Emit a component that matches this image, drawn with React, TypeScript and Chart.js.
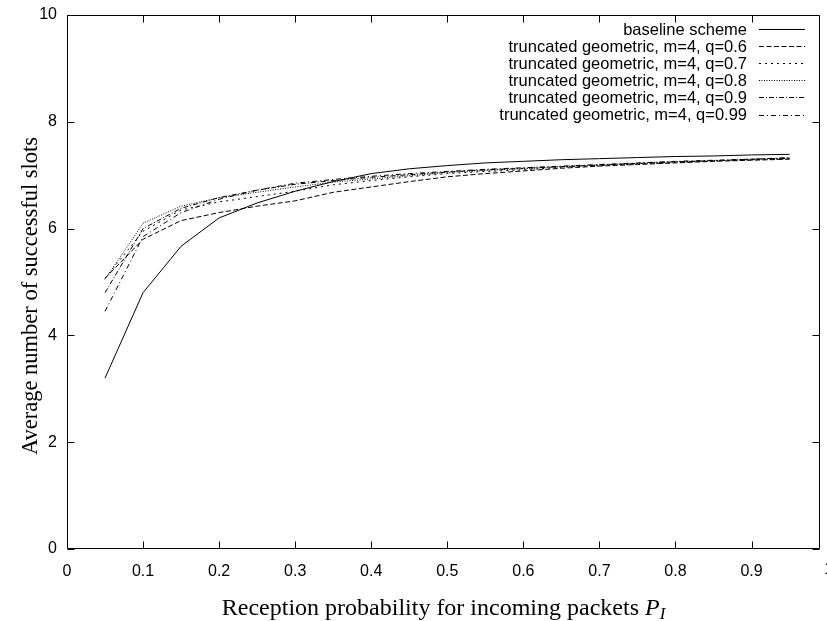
import React, { useEffect, useRef } from 'react';
import { Chart, registerables } from 'chart.js';

Chart.register(...registerables);

const xValues = [0.05, 0.1, 0.15, 0.2, 0.25, 0.3, 0.35, 0.4, 0.45, 0.5, 0.55, 0.6, 0.65, 0.7, 0.75, 0.8, 0.85, 0.9, 0.95];
const baseline = [3.2, 4.8, 5.67, 6.2, 6.48, 6.7, 6.88, 7.03, 7.12, 7.18, 7.23, 7.26, 7.29, 7.31, 7.33, 7.35, 7.36, 7.38, 7.39];
const q06 = [5.07, 5.8, 6.15, 6.3, 6.42, 6.52, 6.68, 6.78, 6.88, 6.97, 7.03, 7.08, 7.13, 7.17, 7.2, 7.23, 7.26, 7.28, 7.3];
const q07 = [5.07, 5.95, 6.35, 6.5, 6.6, 6.7, 6.82, 6.9, 6.97, 7.03, 7.07, 7.1, 7.15, 7.18, 7.21, 7.24, 7.27, 7.29, 7.31];
const q08 = [5.05, 6.1, 6.42, 6.58, 6.68, 6.78, 6.87, 6.93, 6.99, 7.05, 7.09, 7.12, 7.16, 7.19, 7.22, 7.25, 7.27, 7.29, 7.32];
const q09 = [4.8, 6.0, 6.38, 6.58, 6.72, 6.83, 6.9, 6.96, 7.01, 7.06, 7.1, 7.13, 7.16, 7.19, 7.22, 7.25, 7.27, 7.3, 7.32];
const q099 = [4.45, 5.85, 6.3, 6.55, 6.72, 6.85, 6.92, 6.98, 7.03, 7.07, 7.11, 7.14, 7.17, 7.2, 7.23, 7.26, 7.28, 7.3, 7.33];

const seriesLabels = [
  'baseline scheme',
  'truncated geometric, m=4, q=0.6',
  'truncated geometric, m=4, q=0.7',
  'truncated geometric, m=4, q=0.8',
  'truncated geometric, m=4, q=0.9',
  'truncated geometric, m=4, q=0.99',
];
const seriesValues = [baseline, q06, q07, q08, q09, q099];
const seriesDashes: number[][] = [[], [5, 2.5], [2, 4], [1, 1.5], [5, 2, 1, 2], [5, 3, 1, 3]];

const xTicks = [0, 0.1, 0.2, 0.3, 0.4, 0.5, 0.6, 0.7, 0.8, 0.9];
const yTicks = [0, 2, 4, 6, 8, 10];
const xCutTick = 1;

const xTitle = 'Reception probability for incoming packets ';
const yTitle = 'Average number of successful slots';

const SANS = '"Liberation Sans", Arial, sans-serif';
const SERIF = '"Liberation Serif", "Times New Roman", serif';

const framePlugin = {
  id: 'frame',
  afterDraw(chart: any) {
    const { ctx, chartArea } = chart;
    const { left, right, top, bottom } = chartArea;
    const xs = chart.scales.x;
    const ys = chart.scales.y;
    ctx.save();
    ctx.strokeStyle = '#000';
    ctx.lineWidth = 1;
    ctx.setLineDash([]);
    const L = Math.round(left) + 0.5;
    const R = Math.round(right) - 0.5;
    const T = Math.round(top) + 0.5;
    const B = Math.round(bottom) - 0.5;
    ctx.beginPath();
    ctx.rect(L, T, R - L, B - T);
    ctx.stroke();
    const tl = 7;
    ctx.beginPath();
    xTicks.forEach((v) => {
      const px = Math.round(xs.getPixelForValue(v)) + 0.5;
      ctx.moveTo(px, B);
      ctx.lineTo(px, B - tl);
      ctx.moveTo(px, T);
      ctx.lineTo(px, T + tl);
    });
    yTicks.forEach((v) => {
      const py = Math.round(ys.getPixelForValue(v)) + 0.5;
      ctx.moveTo(L, py);
      ctx.lineTo(L + tl, py);
      ctx.moveTo(R, py);
      ctx.lineTo(R - tl, py);
    });
    ctx.stroke();

    // cut-off "1" tick label at the right edge
    ctx.font = `16px ${SANS}`;
    ctx.fillStyle = '#000';
    ctx.textAlign = 'center';
    ctx.textBaseline = 'middle';
    ctx.fillText(String(xCutTick), xs.getPixelForValue(xCutTick) + 1, 570);

    // legend
    const textRight = 747;
    const sampleL = 759;
    const sampleR = 805;
    const rowTop = 29;
    const rowStep = 17.1;
    ctx.font = `16.5px ${SANS}`;
    ctx.textAlign = 'right';
    ctx.textBaseline = 'middle';
    chart.data.datasets.forEach((ds: any, i: number) => {
      const y = rowTop + i * rowStep;
      ctx.fillText(ds.label, textRight, y + 1);
      ctx.beginPath();
      ctx.setLineDash(ds.borderDash || []);
      ctx.moveTo(sampleL, Math.round(y) + 0.5);
      ctx.lineTo(sampleR, Math.round(y) + 0.5);
      ctx.stroke();
    });
    ctx.setLineDash([]);

    // x title with italic P_I
    const cx = (left + right) / 2;
    const fs = 24;
    ctx.textBaseline = 'alphabetic';
    ctx.textAlign = 'left';
    ctx.font = `${fs}px ${SERIF}`;
    const w1 = ctx.measureText(xTitle).width;
    ctx.font = `italic ${fs}px ${SERIF}`;
    const w2 = ctx.measureText('P').width;
    ctx.font = `italic ${fs * 0.7}px ${SERIF}`;
    const w3 = ctx.measureText('I').width;
    let x0 = cx - (w1 + w2 + w3) / 2;
    const base = 615;
    ctx.font = `${fs}px ${SERIF}`;
    ctx.fillText(xTitle, x0, base);
    x0 += w1;
    ctx.font = `italic ${fs}px ${SERIF}`;
    ctx.fillText('P', x0, base);
    x0 += w2;
    ctx.font = `italic ${fs * 0.7}px ${SERIF}`;
    ctx.fillText('I', x0, base + 4);

    // y title
    ctx.save();
    ctx.translate(31, 296);
    ctx.rotate(-Math.PI / 2);
    ctx.font = `22.5px ${SERIF}`;
    ctx.textAlign = 'center';
    ctx.textBaseline = 'middle';
    ctx.fillText(yTitle, 0, 0);
    ctx.restore();

    ctx.restore();
  },
};

export default function App() {
  const ref = useRef<HTMLCanvasElement>(null);
  useEffect(() => {
    if (!ref.current) return;
    const chart = new Chart(ref.current, {
      type: 'line',
      data: {
        datasets: seriesLabels.map((label, i) => ({
          label,
          data: xValues.map((x, j) => ({ x, y: seriesValues[i][j] })),
          borderColor: '#000',
          borderWidth: 1,
          borderDash: seriesDashes[i],
          pointRadius: 0,
          tension: 0,
          fill: false,
        })),
      },
      options: {
        responsive: false,
        animation: false,
        layout: { padding: { top: 15, right: 7, left: 0, bottom: 0 } },
        plugins: { legend: { display: false }, tooltip: { enabled: false } },
        scales: {
          x: {
            type: 'linear',
            min: 0,
            max: 0.99,
            grid: { display: false },
            border: { display: false },
            afterBuildTicks: (s: any) => {
              s.ticks = xTicks.map((v) => ({ value: v }));
            },
            afterFit: (s: any) => {
              s.height = 72;
            },
            ticks: {
              padding: 5,
              maxRotation: 0,
              color: '#000',
              font: { family: SANS, size: 16 },
              callback: (v: any) => (v === 0 ? '0' : Number(v).toFixed(1)),
            },
          },
          y: {
            type: 'linear',
            min: 0,
            max: 10,
            grid: { display: false },
            border: { display: false },
            afterBuildTicks: (s: any) => {
              s.ticks = yTicks.map((v) => ({ value: v }));
            },
            afterFit: (s: any) => {
              s.width = 67;
            },
            ticks: {
              padding: 2,
              color: '#000',
              font: { family: SANS, size: 16 },
              callback: (v: any) => String(v),
            },
          },
        },
      },
      plugins: [framePlugin],
    });
    return () => chart.destroy();
  }, []);
  return (
    <div style={{ position: 'absolute', left: 0, top: 0, width: 827, height: 621, background: '#fff' }}>
      <canvas ref={ref} width={827} height={621} style={{ display: 'block' }} />
    </div>
  );
}
